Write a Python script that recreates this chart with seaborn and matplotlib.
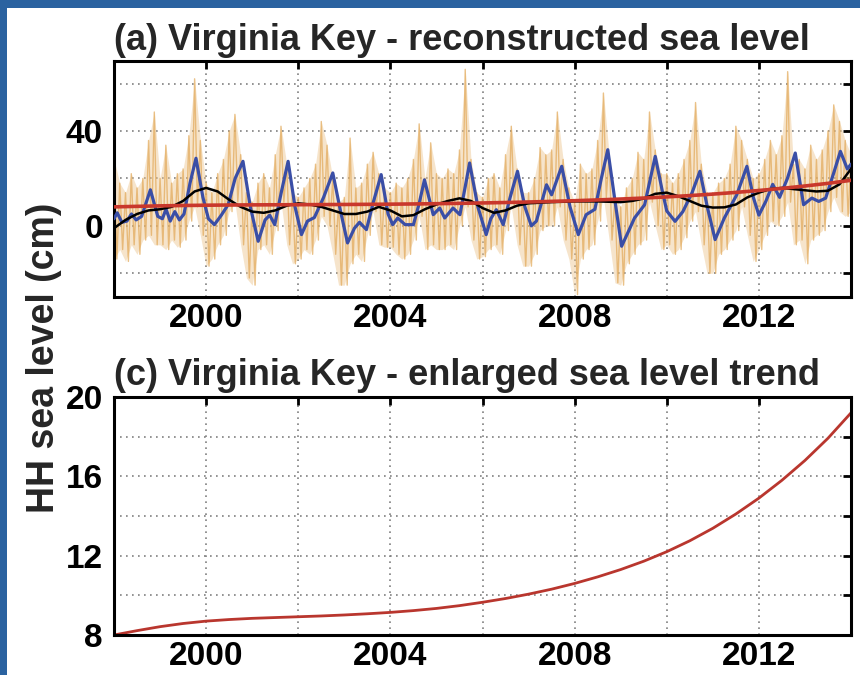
import numpy as np
import matplotlib
matplotlib.use("Agg")
import matplotlib.pyplot as plt
import seaborn as sns
from matplotlib.patches import Rectangle

# ---------------------------------------------------------------
# values (cm, decimal years)
# ---------------------------------------------------------------
trend_years = [1998.0, 1998.5, 1999.0, 1999.5, 2000.0, 2000.5, 2001.0, 2001.5,
               2002.0, 2002.5, 2003.0, 2003.5, 2004.0, 2004.5, 2005.0, 2005.5,
               2006.0, 2006.5, 2007.0, 2007.5, 2008.0, 2008.5, 2009.0, 2009.5,
               2010.0, 2010.5, 2011.0, 2011.5, 2012.0, 2012.5, 2013.0, 2013.5, 2014.0]
trend_cm = [8.00, 8.22, 8.42, 8.58, 8.70, 8.78, 8.84, 8.88,
            8.92, 8.96, 9.01, 9.07, 9.14, 9.23, 9.34, 9.48,
            9.65, 9.84, 10.06, 10.31, 10.60, 10.93, 11.30, 11.72,
            12.20, 12.75, 13.38, 14.10, 14.90, 15.80, 16.80, 17.92, 19.20]

seasonal_years = [1998.00, 1998.07, 1998.17, 1998.28, 1998.38, 1998.48, 1998.60, 1998.79,
                  1998.95, 1999.05, 1999.13, 1999.22, 1999.32, 1999.42, 1999.52, 1999.65,
                  1999.78, 1999.93, 2000.05, 2000.18, 2000.33, 2000.48, 2000.63, 2000.80,
                  2000.96, 2001.13, 2001.28, 2001.38, 2001.49, 2001.63, 2001.78, 2001.93,
                  2002.07, 2002.20, 2002.35, 2002.55, 2002.75, 2002.92, 2003.07, 2003.22,
                  2003.33, 2003.48, 2003.63, 2003.80, 2003.95, 2004.05, 2004.16, 2004.32,
                  2004.50, 2004.62, 2004.74, 2004.93, 2005.07, 2005.18, 2005.36, 2005.51,
                  2005.62, 2005.72, 2005.90, 2006.08, 2006.18, 2006.30, 2006.45, 2006.60,
                  2006.76, 2006.92, 2007.06, 2007.17, 2007.39, 2007.50, 2007.72, 2007.90,
                  2008.08, 2008.25, 2008.44, 2008.58, 2008.72, 2008.88, 2009.02, 2009.20,
                  2009.30, 2009.52, 2009.75, 2009.90, 2010.00, 2010.18, 2010.35, 2010.55,
                  2010.72, 2010.88, 2011.05, 2011.25, 2011.52, 2011.74, 2011.88, 2012.00,
                  2012.15, 2012.30, 2012.45, 2012.62, 2012.79, 2012.97, 2013.15, 2013.30,
                  2013.45, 2013.62, 2013.77, 2013.92, 2014.00]
seasonal_cm = [3.0, 5.5, 1.5, 2.0, 5.0, 2.5, 4.0, 15.2,
               4.0, 3.0, 7.0, 2.0, 6.0, 2.5, 5.0, 18.0,
               28.5, 12.0, 3.0, 0.5, 4.5, 9.0, 20.0, 27.2,
               8.0, -6.5, 2.5, 4.5, 0.5, 14.0, 27.2, 8.0,
               -3.7, 2.0, 3.5, 12.0, 22.3, 6.0, -7.2, -1.0,
               1.5, -1.6, 10.0, 21.6, 5.0, 0.5, 3.3, 0.5,
               0.5, 9.0, 19.4, 4.7, 7.5, 3.3, 7.5, 4.7,
               16.0, 26.5, 8.0, -3.7, 3.0, 6.8, 0.5, 12.0,
               23.0, 8.0, 0.0, 2.0, 17.3, 13.1, 25.1, 8.0,
               -3.7, 4.7, 7.0, 20.0, 32.1, 10.0, -8.6, -1.0,
               3.3, 8.9, 29.3, 15.0, 6.3, 1.9, 6.0, 14.0,
               23.0, 8.0, -5.8, 3.3, 13.1, 25.1, 12.0, 4.5,
               10.3, 17.5, 12.0, 20.0, 30.7, 8.9, 11.7, 10.3,
               11.7, 22.0, 31.4, 24.0, 26.0]

lowpass_years = [1998.00, 1998.25, 1998.50, 1998.75, 1999.00, 1999.25, 1999.50, 1999.75,
                 2000.00, 2000.25, 2000.50, 2000.75, 2001.00, 2001.25, 2001.50, 2001.75,
                 2002.00, 2002.25, 2002.50, 2002.75, 2003.00, 2003.25, 2003.50, 2003.75,
                 2004.00, 2004.25, 2004.50, 2004.75, 2005.00, 2005.25, 2005.50, 2005.75,
                 2006.00, 2006.25, 2006.50, 2006.75, 2007.00, 2007.50, 2008.00, 2008.50,
                 2009.00, 2009.25, 2009.50, 2009.75, 2010.00, 2010.25, 2010.50, 2010.75,
                 2011.00, 2011.25, 2011.50, 2011.75, 2012.00, 2012.25, 2012.50, 2012.75,
                 2013.00, 2013.25, 2013.50, 2013.75, 2014.00]
lowpass_cm = [-1.0, 2.5, 5.0, 6.5, 7.0, 8.0, 10.5, 14.5,
              16.0, 14.5, 11.0, 8.0, 6.0, 5.5, 6.5, 8.5,
              9.5, 9.0, 8.0, 6.5, 5.0, 5.0, 6.0, 8.0,
              6.5, 4.0, 4.5, 7.0, 9.0, 10.5, 11.6, 10.5,
              7.5, 5.5, 6.5, 8.5, 9.5, 10.0, 10.3, 10.3,
              10.0, 10.5, 11.5, 13.5, 14.0, 12.5, 10.5, 8.5,
              7.7, 7.8, 9.0, 12.0, 14.0, 15.5, 16.0, 15.5,
              15.0, 14.5, 14.8, 17.5, 24.0]

# raw record: local highs and lows, one pair every 1/8 year from 1998 to 2014
raw_hi = [28, 18, 14, 22, 16, 20, 36, 48,
          20, 34, 18, 22, 24, 38, 62, 36,
          18, 14, 22, 28, 40, 47, 30, 14,
          10, 18, 22, 16, 30, 42, 26, 14,
          12, 16, 20, 26, 44, 34, 20, 10,
          12, 37, 16, 18, 26, 31, 22, 16,
          14, 18, 16, 20, 28, 43, 20, 35,
          22, 20, 24, 22, 32, 66, 28, 14,
          12, 20, 22, 16, 30, 42, 24, 14,
          14, 20, 33, 30, 32, 48, 28, 16,
          10, 26, 22, 24, 36, 56, 30, 12,
          8, 16, 20, 31, 28, 48, 32, 22,
          22, 18, 22, 28, 36, 52, 26, 14,
          14, 18, 20, 26, 42, 36, 28, 20,
          22, 28, 36, 30, 38, 65, 26, 28,
          24, 34, 28, 32, 40, 51, 44, 36,
          30]
raw_lo = [-14, -10, -15, -8, -12, -6, -4, -8,
          -8, -10, -6, -9, -6, 2, 8, -4,
          -17, -14, -8, -4, 6, 10, -8, -22,
          -25, -10, -8, -12, -2, 10, -8, -16,
          -14, -10, -12, -6, 4, 0, -12, -25,
          -25, -16, -12, -15, -4, 6, -8, -9,
          -9, -12, -14, -12, -6, 4, -10, -8,
          -10, -10, -8, -10, 0, 8, -6, -14,
          -13, -10, -8, -12, -2, 8, -8, -17,
          -17, -12, -2, 0, 0, 8, -6, -14,
          -29, -14, -10, -8, 2, 12, -6, -24,
          -25, -16, -12, -8, -6, 10, 0, -10,
          -8, -12, -10, -5, 2, 6, -8, -20,
          -20, -12, -10, -6, -2, 8, -4, -15,
          -10, -4, 2, 0, 4, 10, -8, -6,
          -16, -6, -4, -2, 6, 12, 6, 4,
          6]

x_ticks = [2000, 2002, 2004, 2006, 2008, 2010, 2012]
x_labels = ["2000", "", "2004", "", "2008", "", "2012"]
top_yticks = [-20, 0, 20, 40, 60]
top_ylabels = ["", "0", "", "40", ""]
bot_yticks = [8, 10, 12, 14, 16, 18, 20]
bot_ylabels = ["8", "", "12", "", "16", "", "20"]

# ---------------------------------------------------------------
sns.set_style("white")
plt.rcParams['font.family'] = ['Liberation Sans', 'DejaVu Sans']
plt.rcParams['font.weight'] = 'bold'

fig = plt.figure(figsize=(8.6, 6.75), dpi=100, facecolor='#2a62a0')
fig.patches.append(Rectangle((7 / 860, 0), 1, 1 - 8 / 675, transform=fig.transFigure,
                             facecolor='white', edgecolor='none', zorder=-1))

ax1 = fig.add_axes([114 / 860, 1 - 297 / 675, 737 / 860, 236 / 675])
ax2 = fig.add_axes([114 / 860, 1 - 635 / 675, 737 / 860, 238 / 675])

# raw record: light band between lows and highs + zigzag spikes
raw_years = np.arange(len(raw_hi)) * 0.125 + 1998.0
ax1.fill_between(raw_years, raw_lo, raw_hi, color='#ecc48c', alpha=0.45,
                 linewidth=0, zorder=1)
zz_x = np.column_stack([raw_years, raw_years + 0.0625]).ravel()
zz_y = np.column_stack([raw_hi, raw_lo]).ravel()
ax1.plot(zz_x, zz_y, color='#e2a856', alpha=0.7, linewidth=1.0, zorder=2)

sns.lineplot(x=seasonal_years, y=seasonal_cm, ax=ax1, color='#3a4ea6',
             linewidth=2.3, estimator=None, zorder=3)
sns.lineplot(x=lowpass_years, y=lowpass_cm, ax=ax1, color='black',
             linewidth=1.8, estimator=None, zorder=4)
sns.lineplot(x=trend_years, y=trend_cm, ax=ax1, color='#c9382c',
             linewidth=2.6, estimator=None, zorder=5)

sns.lineplot(x=trend_years, y=trend_cm, ax=ax2, color='#b9362e',
             linewidth=2.0, estimator=None)

ax1.set_ylim(-30, 69.5)
ax2.set_ylim(8, 20)
ax1.set_yticks(top_yticks)
ax1.set_yticklabels(top_ylabels)
ax2.set_yticks(bot_yticks)
ax2.set_yticklabels(bot_ylabels)

for ax in (ax1, ax2):
    ax.set_xlim(1998, 2014)
    ax.set_xticks(x_ticks)
    ax.set_xticklabels(x_labels)
    ax.set_xlabel("")
    ax.set_ylabel("")
    ax.grid(True, color='#808080', linestyle=(0, (1, 2.6)), linewidth=1.2)
    ax.tick_params(axis='y', direction='in', length=6, width=2, right=True,
                   labelsize=24, pad=8, colors='black')
    ax.tick_params(axis='x', direction='in', length=6, width=2, top=True,
                   labelsize=24, pad=4, colors='black')
    for s in ax.spines.values():
        s.set_visible(True)
        s.set_linewidth(2.2)
        s.set_color('black')

ax1.set_title("(a) Virginia Key - reconstructed sea level", loc='left',
              fontsize=26, fontweight='bold', pad=8)
ax2.set_title("(c) Virginia Key - enlarged sea level trend", loc='left',
              fontsize=26, fontweight='bold', pad=9)

fig.text(44 / 860, 1 - 358 / 675, "HH sea level (cm)", rotation=90,
         ha='center', va='center', fontsize=27, fontweight='bold')

fig.savefig("out.png", dpi=100, facecolor=fig.get_facecolor())
